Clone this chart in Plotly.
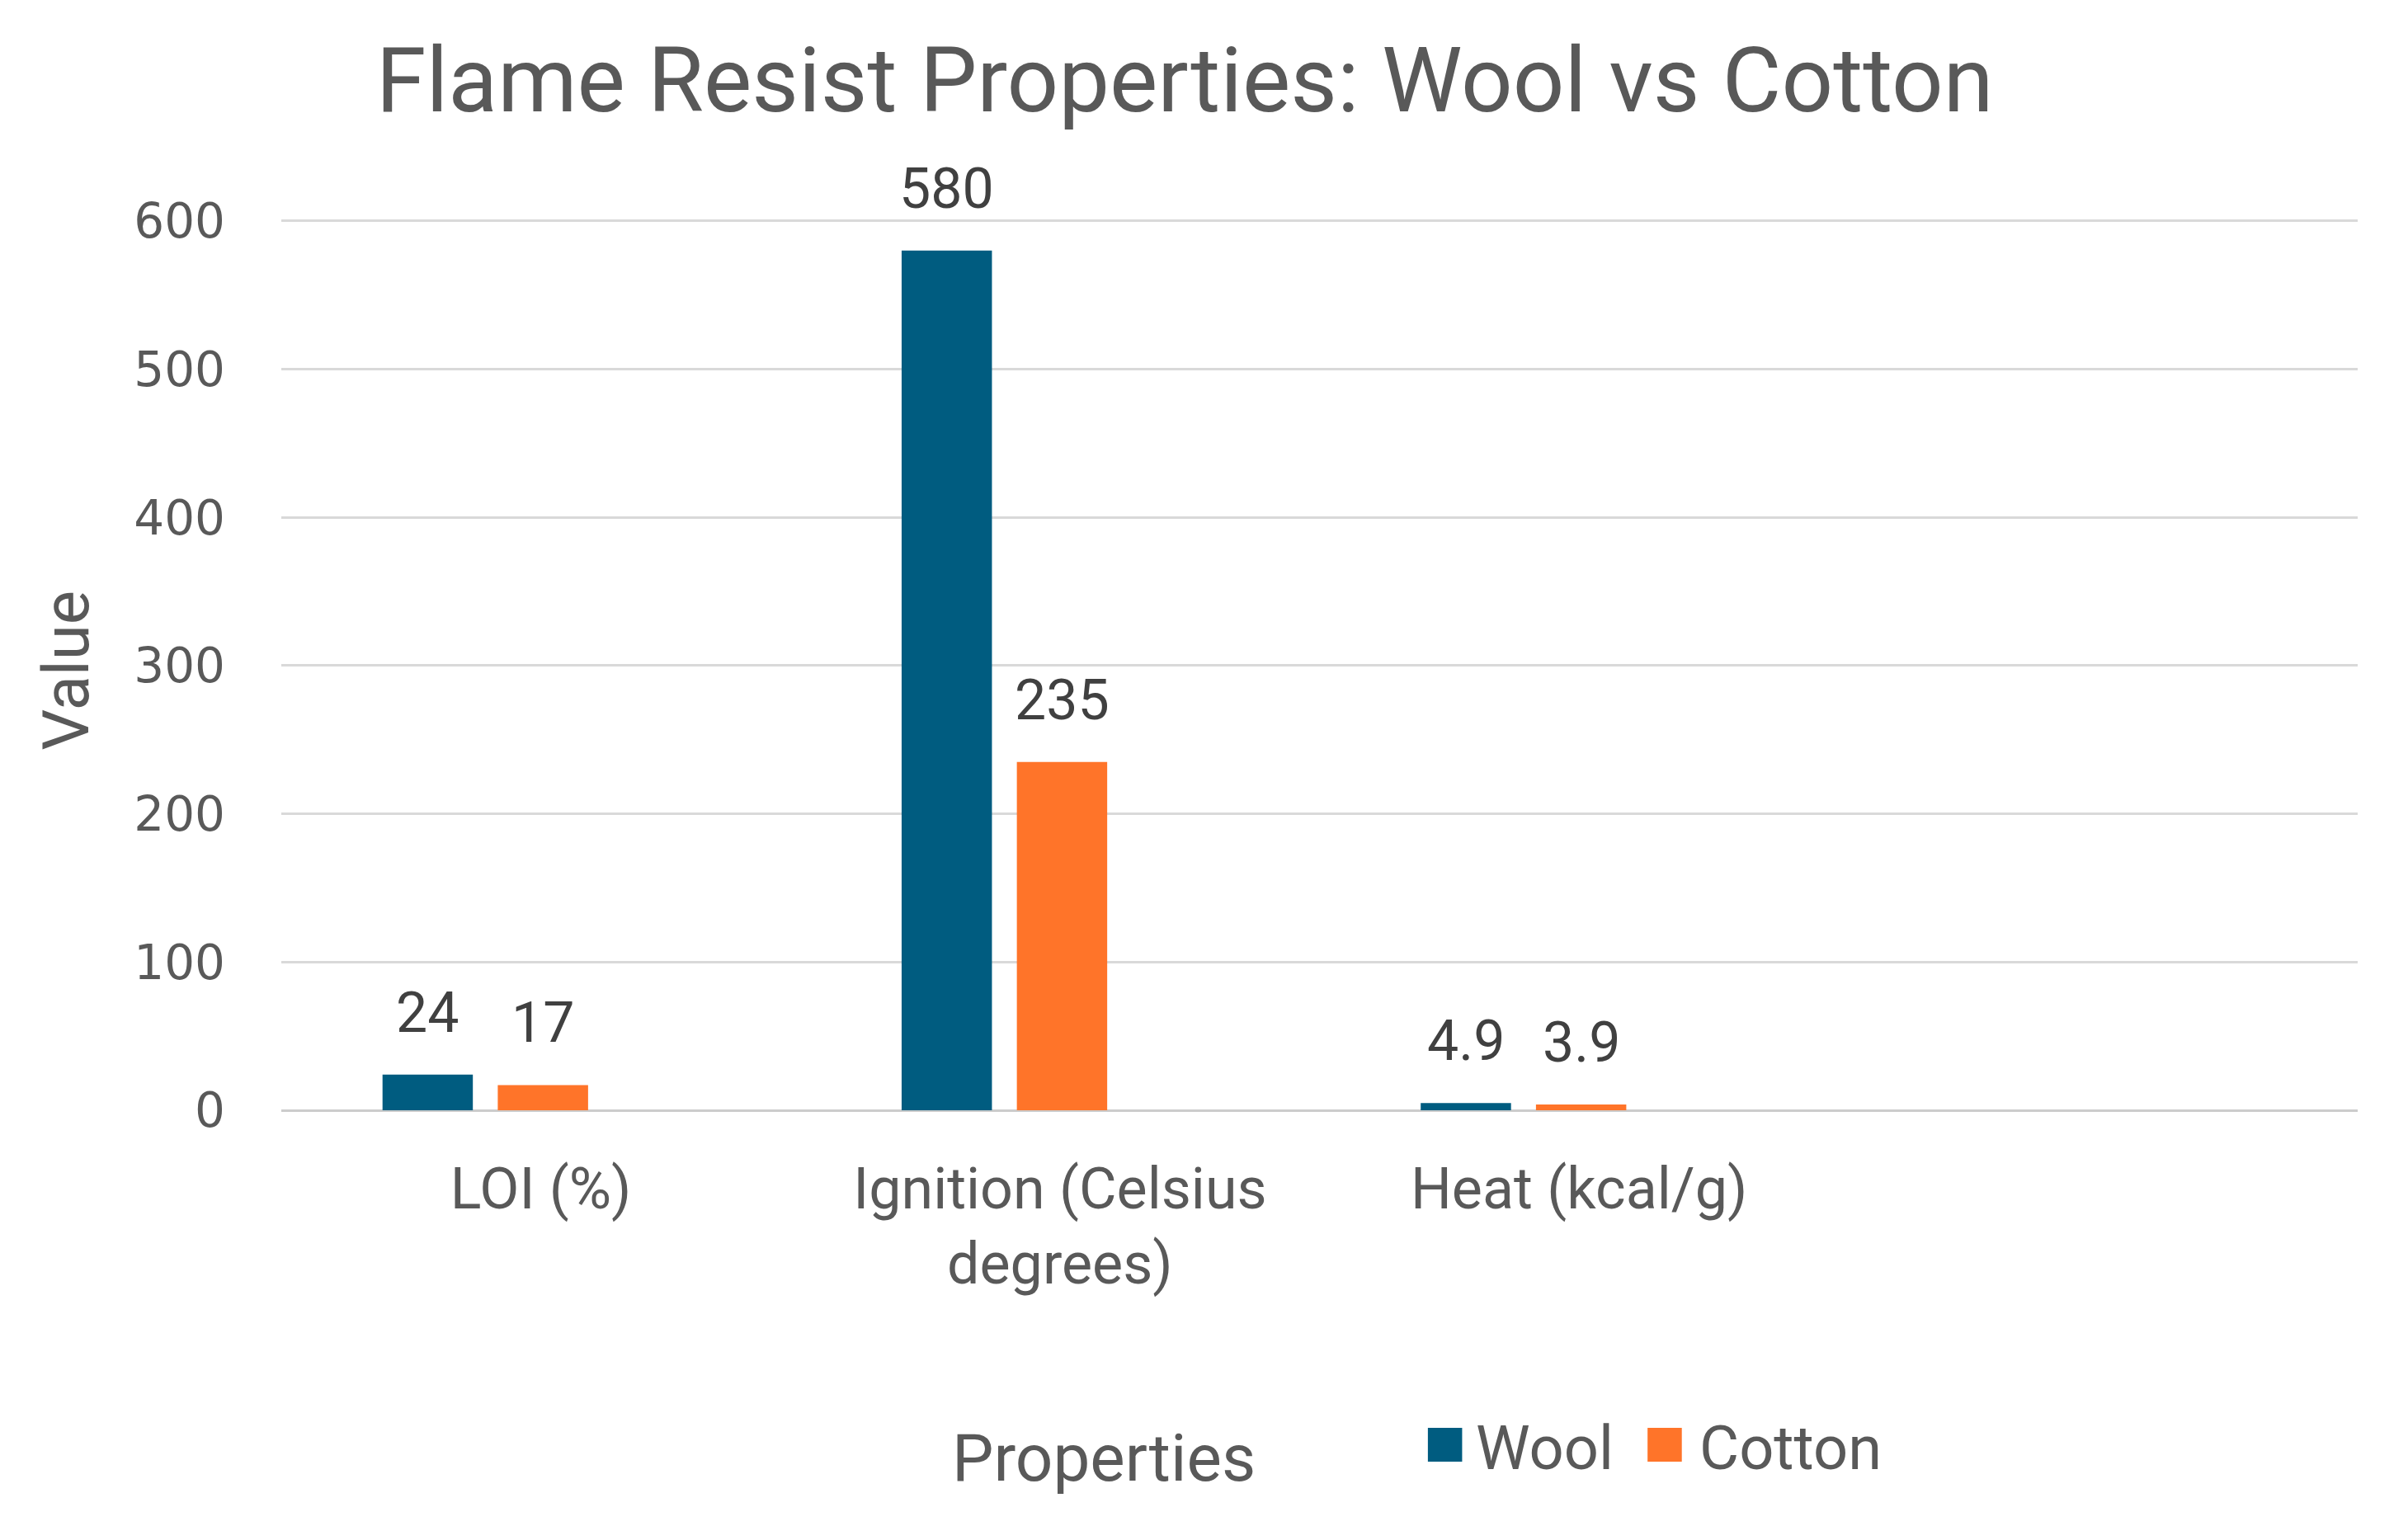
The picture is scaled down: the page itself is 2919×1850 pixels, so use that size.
import plotly.graph_objects as go

# data
categories = ['LOI (%)', 'Ignition (Celsius<br>degrees)', 'Heat (kcal/g)']
wool = [24, 580, 4.9]
cotton = [17, 235, 3.9]
wool_text = ['24', '580', '4.9']
cotton_text = ['17', '235', '3.9']
y_ticks = [0, 100, 200, 300, 400, 500, 600]

wool_color = 'rgb(0, 92, 128)'
cotton_color = 'rgb(255, 116, 41)'
grey = '#595959'

W, H = 2919, 1850
ML, MR, MT, MB = 341, 61, 266, 504
n_slots = 4  # excel left room for an empty 4th category
bar_w = 0.174
wool_off, cotton_off = -0.305, -0.083
cat_px = (W - ML - MR) / n_slots

fig = go.Figure()
fig.add_trace(go.Bar(
    x=categories, y=wool, name='Wool',
    marker=dict(color=wool_color, line=dict(width=0)),
    width=bar_w, offset=wool_off, showlegend=False,
))
fig.add_trace(go.Bar(
    x=categories, y=cotton, name='Cotton',
    marker=dict(color=cotton_color, line=dict(width=0)),
    width=bar_w, offset=cotton_off, showlegend=False,
))

# data labels above bars
for vals, texts, off in [(wool, wool_text, wool_off), (cotton, cotton_text, cotton_off)]:
    for c, v, t in zip(categories, vals, texts):
        fig.add_annotation(
            x=c, y=v, text=t, showarrow=False,
            xshift=(off + bar_w / 2) * cat_px, yshift=33,
            xanchor='center', yanchor='bottom',
            font=dict(size=68, color='#404040', family='Roboto'),
        )

fig.update_layout(
    width=W, height=H,
    paper_bgcolor='white', plot_bgcolor='white',
    margin=dict(l=ML, r=MR, t=MT, b=MB),
    font=dict(family='Roboto', color=grey),
    title=dict(
        text='Flame Resist Properties: Wool vs Cotton',
        x=0.492, xanchor='center', y=0.9476, yanchor='middle',
        font=dict(size=110, color=grey, family='Roboto'),
    ),
    barmode='group',
    xaxis=dict(
        type='category', range=[-0.5, n_slots - 0.5],
        showgrid=False, zeroline=False, showline=False,
        tickfont=dict(size=70, color=grey, family='Roboto'),
        ticklabelstandoff=48,
    ),
    yaxis=dict(
        range=[0, 601], tickvals=y_ticks,
        showgrid=True, gridcolor='#d9d9d9', gridwidth=3,
        zeroline=True, zerolinecolor='#cccccc', zerolinewidth=3,
        showline=False,
        tickfont=dict(size=58, color=grey, family='DejaVu Sans'),
        ticklabelstandoff=67,
    ),
    showlegend=False,
)

fig.add_annotation(
    text='Properties', xref='paper', yref='paper', x=0.396, y=-0.391,
    xanchor='center', yanchor='middle', showarrow=False,
    font=dict(size=80, color=grey, family='Roboto'),
)
fig.add_annotation(
    text='Value', xref='paper', yref='paper', x=-0.1037, y=0.494,
    xanchor='center', yanchor='middle', textangle=-90, showarrow=False,
    font=dict(size=78, color=grey, family='Roboto'),
)

# legend drawn by hand so the swatches can be as big as excel's
legend_items = [('Wool', wool_color, 0.5522, 0.5745), ('Cotton', cotton_color, 0.658, 0.682)]
for name, color, sx, tx in legend_items:
    fig.add_shape(
        type='rect', xref='paper', yref='paper',
        x0=sx, x1=sx + 0.0165, y0=-0.3944, y1=-0.3565,
        fillcolor=color, line=dict(width=0),
    )
    fig.add_annotation(
        text=name, xref='paper', yref='paper', x=tx, y=-0.379,
        xanchor='left', yanchor='middle', showarrow=False,
        font=dict(size=74, color=grey, family='Roboto'),
    )

fig.write_html('out.html', config={'displayModeBar': False},
               post_script="document.body.style.margin='0';")
